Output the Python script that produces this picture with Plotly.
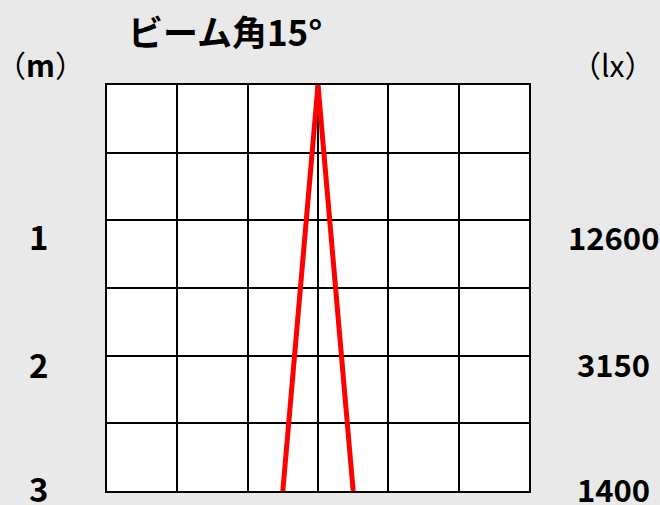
import plotly.graph_objects as go

# Data
distances_m = [1, 2, 3]
illuminance_lx = ["12600", "3150", "1400"]
beam_depth = [0, 3]          # distance from fixture (m)
beam_left = [0, -0.5]        # beam edge (grid columns)
beam_right = [0, 0.5]
title_text = "ビーム角15°"

FONT = "Noto Sans CJK JP"
fig = go.Figure()
for xs in (beam_left, beam_right):
    fig.add_trace(go.Scatter(x=xs, y=beam_depth, mode="lines",
                             line=dict(color="#ff0000", width=5),
                             showlegend=False, hoverinfo="skip"))

fig.update_layout(
    width=660, height=505,
    margin=dict(l=107, r=131, t=85, b=14),
    paper_bgcolor="#e9e9e9", plot_bgcolor="#ffffff",
    showlegend=False,
    xaxis=dict(range=[-3, 3], dtick=1, tick0=0, showgrid=True, gridcolor="#000000",
               gridwidth=2, zeroline=False, showline=True, mirror=True,
               linecolor="#000000", linewidth=2, showticklabels=False, ticks="",
               fixedrange=True),
    yaxis=dict(range=[3, 0], dtick=0.5, tick0=0, showgrid=True, gridcolor="#000000",
               gridwidth=2, zeroline=False, showline=True, mirror=True,
               linecolor="#000000", linewidth=2, showticklabels=False, ticks="",
               fixedrange=True),
)

# label vertical offsets (pixels) relative to the distance gridlines
shifts = [-16, -8, 3]
for d, lx, s in zip(distances_m, illuminance_lx, shifts):
    fig.add_annotation(x=0, xref="paper", xshift=-69, y=d, yref="y", yshift=s,
                       text=str(d), showarrow=False, xanchor="center", yanchor="middle",
                       font=dict(family=FONT, size=33, color="#000000", weight="bold"))
    fig.add_annotation(x=1, xref="paper", xshift=84, y=d, yref="y", yshift=s,
                       text=lx, showarrow=False, xanchor="center", yanchor="middle",
                       font=dict(family=FONT, size=31, color="#000000", weight="bold"))

fig.add_annotation(x=(225 - 107) / 422, xref="paper", y=1, yref="paper", yshift=55,
                   text=title_text, showarrow=False, xanchor="center", yanchor="middle",
                   font=dict(family=FONT, size=35, color="#000000", weight="bold"))

fig.add_annotation(x=0, xref="paper", xshift=-67, y=1, yref="paper", yshift=21,
                   text="（<b>m</b>）", showarrow=False, xanchor="center", yanchor="middle",
                   font=dict(family=FONT, size=30, color="#000000"))
fig.add_annotation(x=1, xref="paper", xshift=83, y=1, yref="paper", yshift=21,
                   text="（lx）", showarrow=False, xanchor="center", yanchor="middle",
                   font=dict(family=FONT, size=30, color="#000000"))

fig.write_html("out.html", config={"displayModeBar": False},
               post_script="document.body.style.margin='0';")
